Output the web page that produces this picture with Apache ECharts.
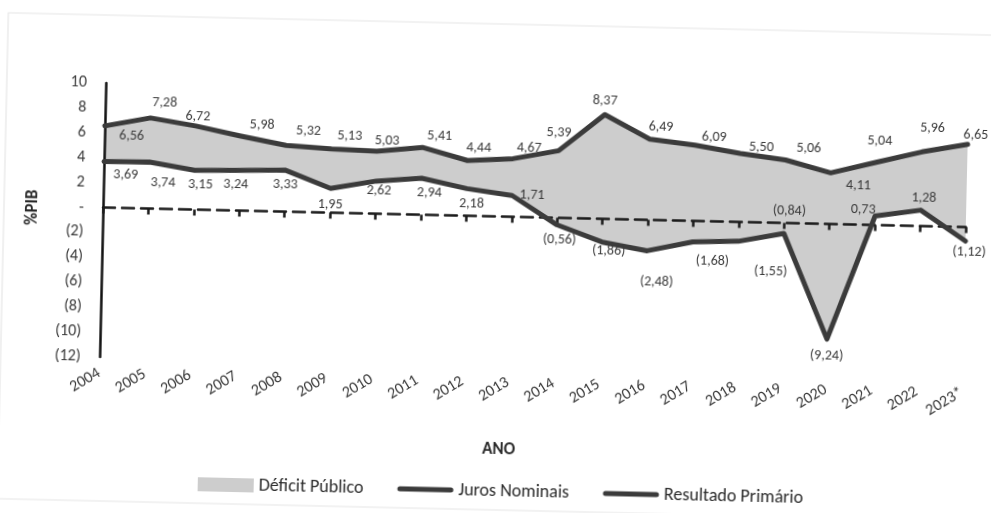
<!DOCTYPE html>
<html>
<head>
<meta charset="utf-8">
<script src="https://cdn.jsdelivr.net/npm/echarts@6/dist/echarts.min.js"></script>
<style>
  html, body { margin: 0; padding: 0; background: #ffffff; overflow: hidden; }
  #chart { width: 991px; height: 513px; transform: rotate(1.3deg); transform-origin: 103px 207px; }
</style>
</head>
<body>
<div id="chart"></div>
<script>
// ---- data ----
var anos = ['2004','2005','2006','2007','2008','2009','2010','2011','2012','2013',
            '2014','2015','2016','2017','2018','2019','2020','2021','2022','2023*'];
var jurosNominais = [6.56, 7.28, 6.72, 5.98, 5.32, 5.13, 5.03, 5.41, 4.44, 4.67,
                     5.39, 8.37, 6.49, 6.09, 5.50, 5.06, 4.11, 5.04, 5.96, 6.65];
var resultadoPrimario = [3.69, 3.74, 3.15, 3.24, 3.33, 1.95, 2.62, 2.94, 2.18, 1.71,
                         -0.56, -1.86, -2.48, -1.68, -1.55, -0.84, -9.24, 0.73, 1.28, -1.12];
var yTicks = { min: -12, max: 10, step: 2 };

// ---- label placement (style only) ----
var jurosLabelStyle = [
  ['bottom', 27, -3], ['top', 14, -3], ['top', 2, 3], ['top', 21, 1], ['top', 22, -2],
  ['top', 18, -1], ['top', 10, 2], ['top', 17, 1], ['top', 11, 0], ['top', 16, 2],
  ['top', 0, -5], ['top', 0, -1], ['top', 11, 0], ['top', 19, 4], ['top', 21, 6],
  ['top', 23, 0], ['bottom', 28, 0], ['top', 3, -9], ['top', 10, -11], ['top', 8, 3]
];
var primLabelStyle = [
  ['bottom', 22, 0], ['bottom', 14, 8], ['bottom', 6, 2], ['bottom', -4, 2], ['bottom', 0, 2],
  ['bottom', 0, 4], ['bottom', 3, -3], ['bottom', 8, 2], ['bottom', 5, 3], ['right', 2, -1],
  ['bottom', 3, 2], ['bottom', 7, -4], ['bottom', 10, 19], ['bottom', 20, 7], ['bottom', 33, 17],
  ['top', 5, -10], ['bottom', 0, 4], ['top', -12, 7], ['top', 3, 0], ['bottom', 4, -1]
];

function fmtNum(v) {
  var s = Math.abs(v).toFixed(2).replace('.', ',');
  return v < 0 ? '(' + s + ')' : s;
}
function fmtTick(v) {
  if (v === 0) return '-';
  return v < 0 ? '(' + Math.abs(v) + ')' : String(v);
}

var FONT = 'Carlito, Lato, sans-serif';
var TXT = '#3a3a3a';
var LINE = '#3b3b3b';
var AREA = '#cdcdcd';
var LINE_ICON = 'path://M2.5,0 L53.5,0 A2.5,2.5 0 0 1 53.5,5 L2.5,5 A2.5,2.5 0 0 1 2.5,0 Z';

function labeled(values, styles) {
  return values.map(function (v, i) {
    var s = styles[i];
    return { value: v, label: { position: s[0], offset: [s[1], s[2]] } };
  });
}

var deficit = jurosNominais.map(function (j, i) { return +(j - resultadoPrimario[i]).toFixed(2); });

var chart = echarts.init(document.getElementById('chart'), null, { renderer: 'canvas' });

var lineLabel = {
  show: true,
  formatter: function (p) { return fmtNum(p.value); },
  fontSize: 14, color: TXT, fontFamily: FONT, distance: 5
};

chart.setOption({
  animation: false,
  backgroundColor: '#ffffff',
  textStyle: { fontFamily: FONT },
  grid: { left: 103, right: 25, top: 83, bottom: 156, containLabel: false },
  xAxis: [
    {
      type: 'category', data: anos, boundaryGap: false, position: 'bottom',
      axisLine: { show: false, onZero: false },
      axisTick: { show: false },
      axisLabel: { rotate: 32, margin: 15, fontSize: 16, color: TXT, fontFamily: FONT, interval: 0 },
      splitLine: { show: false }
    },
    {
      type: 'category', data: anos, boundaryGap: false, position: 'top', z: 5,
      axisLine: { show: true, onZero: true, lineStyle: { color: '#1a1a1a', width: 2.5, type: [12, 7] } },
      axisTick: { show: true, inside: true, length: 6, interval: 0,
                  lineStyle: { color: '#1a1a1a', width: 2.5 } },
      axisLabel: { show: false },
      splitLine: { show: false }
    }
  ],
  yAxis: {
    type: 'value', min: yTicks.min, max: yTicks.max, interval: yTicks.step, z: 5,
    axisLine: { show: true, onZero: false, lineStyle: { color: '#111', width: 2.5 } },
    axisTick: { show: false },
    splitLine: { show: false },
    axisLabel: { formatter: fmtTick, fontSize: 16, color: TXT, margin: 19, fontFamily: FONT }
  },
  legend: {
    left: 204, top: 473, padding: 0,
    itemWidth: 56, itemHeight: 14, itemGap: 34,
    textStyle: { fontSize: 18, color: '#2a2a2a', fontFamily: FONT },
    data: [
      { name: 'Déficit Público', icon: 'rect', itemStyle: { color: AREA } },
      { name: 'Juros Nominais', icon: LINE_ICON, itemStyle: { color: LINE } },
      { name: 'Resultado Primário', icon: LINE_ICON, itemStyle: { color: LINE } }
    ]
  },
  graphic: [
    { type: 'rect', silent: true, z: -10,
      shape: { x: 4, y: 15, width: 1000, height: 486 },
      style: { fill: 'none', stroke: '#e6e6e6', lineWidth: 1.2 } },
    { type: 'text', silent: true, x: 33, y: 209, rotation: Math.PI / 2,
      style: { text: '%PIB', fontSize: 17, fontWeight: 'bold', fill: '#2a2a2a', fontFamily: FONT,
               align: 'center', verticalAlign: 'middle' } },
    { type: 'text', silent: true, x: 504, y: 441,
      style: { text: 'ANO', fontSize: 17, fontWeight: 'bold', fill: '#2a2a2a', fontFamily: FONT,
               align: 'center', verticalAlign: 'middle' } }
  ],
  series: [
    {
      name: 'base', type: 'line', stack: 'faixa', stackStrategy: 'all',
      data: resultadoPrimario, symbol: 'none', silent: true,
      lineStyle: { width: 0, opacity: 0 }, itemStyle: { color: 'transparent' },
      z: 1
    },
    {
      name: 'Déficit Público', type: 'line', stack: 'faixa', stackStrategy: 'all',
      data: deficit, symbol: 'none', silent: true,
      lineStyle: { width: 0, opacity: 0 }, itemStyle: { color: AREA },
      areaStyle: { color: AREA, opacity: 1 },
      z: 1
    },
    {
      name: 'Juros Nominais', type: 'line', data: labeled(jurosNominais, jurosLabelStyle),
      symbol: 'circle', symbolSize: 1, showSymbol: true, showAllSymbol: true, z: 6,
      lineStyle: { color: LINE, width: 5, cap: 'round', join: 'round' },
      itemStyle: { color: LINE },
      label: lineLabel
    },
    {
      name: 'Resultado Primário', type: 'line', data: labeled(resultadoPrimario, primLabelStyle),
      symbol: 'circle', symbolSize: 1, showSymbol: true, showAllSymbol: true, z: 6,
      lineStyle: { color: LINE, width: 5, cap: 'round', join: 'round' },
      itemStyle: { color: LINE },
      label: lineLabel
    }
  ]
});
</script>
</body>
</html>
